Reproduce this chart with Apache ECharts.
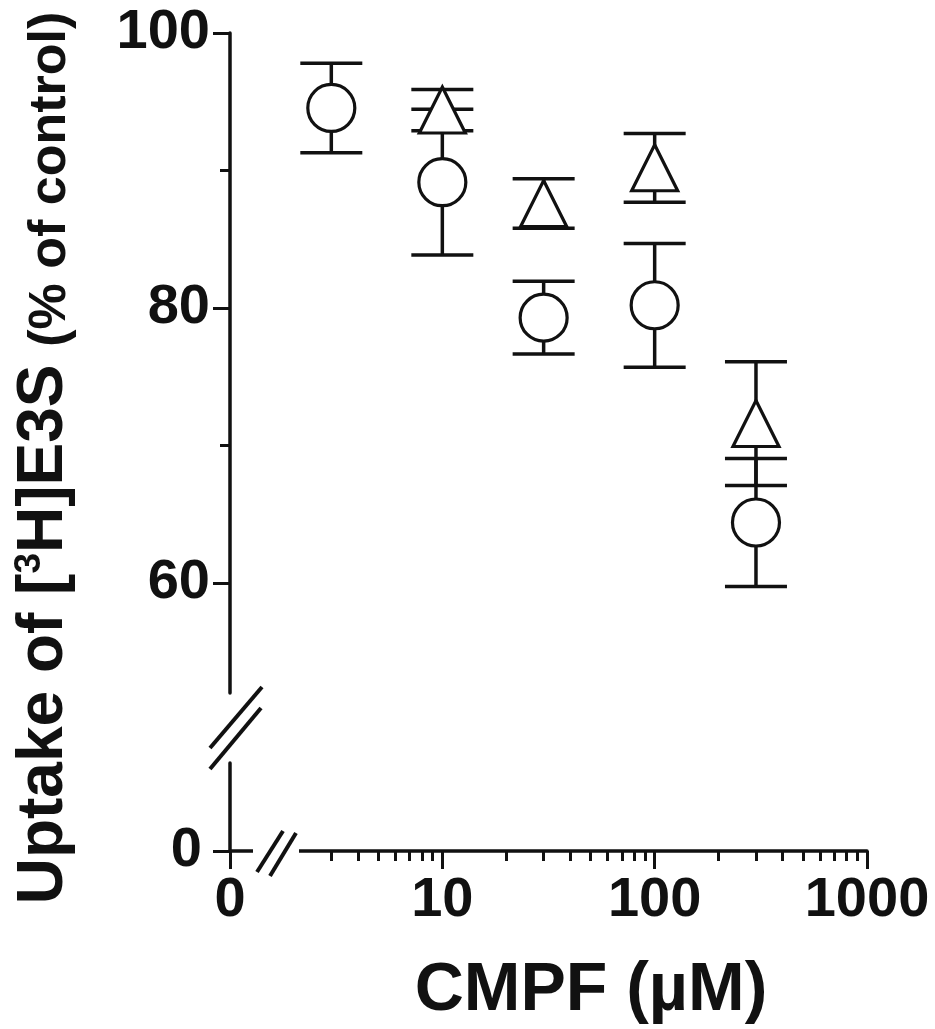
<!DOCTYPE html>
<html>
<head>
<meta charset="utf-8">
<script src="https://cdn.jsdelivr.net/npm/echarts@6/dist/echarts.min.js"></script>
<style>
html,body{margin:0;padding:0;background:#fff;}
#chart{width:935px;height:1029px;}
</style>
</head>
<body>
<div id="chart"></div>
<script>
// ---- data ----
const circleConc = [3, 10, 30, 100, 300];
const circleMean = [94.55, 89.15, 79.3, 80.2, 64.4];
const circleErr = [3.25, 5.3, 2.65, 4.5, 4.65];
const triConc = [10, 30, 100, 300];
const triMean = [94.4, 87.6, 90.2, 71.6];
const triErr = [1.5, 1.8, 2.5, 4.5];
const yMajorTicks = [60, 80, 100];
const yMinorTicks = [70, 90];
const yZeroTicks = [0];
const xMajorTicks = [1, 10, 100, 1000];
const xMinorTicks = [3, 4, 5, 6, 7, 8, 9, 20, 30, 40, 50, 60, 70, 80, 90, 200, 300, 400, 500, 600, 700, 800, 900];

const INK = '#111';
const FONT = '"Liberation Sans", Arial, Helvetica, sans-serif';

const chart = echarts.init(document.getElementById('chart'));

function errData(conc, mean, err) {
  return conc.map((c, i) => [c, mean[i] - err[i], mean[i] + err[i]]);
}
function errRender(params, api) {
  const x = api.value(0);
  const lo = api.coord([x, api.value(1)]);
  const hi = api.coord([x, api.value(2)]);
  const hw = 31;
  const st = { stroke: INK, lineWidth: 3.5 };
  return {
    type: 'group',
    children: [
      { type: 'line', shape: { x1: lo[0], y1: lo[1], x2: hi[0], y2: hi[1] }, style: st },
      { type: 'line', shape: { x1: hi[0] - hw, y1: hi[1], x2: hi[0] + hw, y2: hi[1] }, style: st },
      { type: 'line', shape: { x1: lo[0] - hw, y1: lo[1], x2: lo[0] + hw, y2: lo[1] }, style: st }
    ]
  };
}

const labelStyle = { color: INK, fontSize: 56, fontWeight: 'bold', fontFamily: FONT };
const axisLineStyle = { color: INK, width: 3.5 };

const option = {
  animation: false,
  backgroundColor: '#fff',
  grid: [
    { left: 230, right: 68, top: 33, bottom: 336 },
    { left: 230, right: 68, top: 763, bottom: 178 }
  ],
  xAxis: [
    { type: 'log', gridIndex: 0, min: 1, max: 1000, show: false },
    {
      type: 'log', gridIndex: 1, min: 1, max: 1000, position: 'bottom',
      axisLine: { show: true, onZero: false, lineStyle: axisLineStyle },
      axisTick: { show: true, length: 18, customValues: xMajorTicks, lineStyle: { color: INK, width: 3 } },
      axisLabel: {
        show: true, customValues: xMajorTicks, margin: 22, ...labelStyle,
        formatter: v => (v === 1 ? '0' : String(Math.round(v)))
      },
      splitLine: { show: false }
    },
    {
      type: 'log', gridIndex: 1, min: 1, max: 1000, position: 'bottom',
      axisLine: { show: false, onZero: false },
      axisTick: { show: true, length: 10, customValues: xMinorTicks, lineStyle: { color: INK, width: 3 } },
      axisLabel: { show: false },
      splitLine: { show: false }
    }
  ],
  yAxis: [
    {
      type: 'value', gridIndex: 0, min: 52, max: 100, position: 'left',
      axisLine: { show: true, onZero: false, lineStyle: axisLineStyle },
      axisTick: { show: true, length: 17, customValues: yMajorTicks, lineStyle: { color: INK, width: 3 } },
      axisLabel: { show: true, customValues: yMajorTicks, margin: 20, ...labelStyle },
      splitLine: { show: false }
    },
    {
      type: 'value', gridIndex: 0, min: 52, max: 100, position: 'left',
      axisLine: { show: false, onZero: false },
      axisTick: { show: true, length: 10, customValues: yMinorTicks, lineStyle: { color: INK, width: 3 } },
      axisLabel: { show: false },
      splitLine: { show: false }
    },
    {
      type: 'value', gridIndex: 1, min: 0, max: 6.4, position: 'left',
      axisLine: { show: true, onZero: false, lineStyle: axisLineStyle },
      axisTick: { show: true, length: 17, customValues: yZeroTicks, lineStyle: { color: INK, width: 3 } },
      axisLabel: { show: true, customValues: yZeroTicks, margin: 28, ...labelStyle },
      splitLine: { show: false }
    }
  ],
  series: [
    {
      type: 'custom', xAxisIndex: 0, yAxisIndex: 0, z: 2,
      data: errData(circleConc, circleMean, circleErr),
      encode: { x: 0, y: [1, 2] },
      renderItem: errRender
    },
    {
      type: 'custom', xAxisIndex: 0, yAxisIndex: 0, z: 2,
      data: errData(triConc, triMean, triErr),
      encode: { x: 0, y: [1, 2] },
      renderItem: errRender
    },
    {
      type: 'scatter', xAxisIndex: 0, yAxisIndex: 0, z: 5,
      symbol: 'circle', symbolSize: 47,
      itemStyle: { color: '#fff', borderColor: INK, borderWidth: 3.2, opacity: 1 },
      data: circleConc.map((c, i) => [c, circleMean[i]])
    },
    {
      type: 'scatter', xAxisIndex: 0, yAxisIndex: 0, z: 6,
      symbol: 'triangle', symbolSize: 46,
      itemStyle: { color: '#fff', borderColor: INK, borderWidth: 3.2, opacity: 1 },
      data: triConc.map((c, i) => [c, triMean[i]])
    }
  ],
  graphic: [
    // gap in the x axis line
    { type: 'rect', z: 100, shape: { x: 253, y: 845, width: 46, height: 12 }, style: { fill: '#fff' } },
    // y-axis break marks
    { type: 'line', z: 101, shape: { x1: 210, y1: 748, x2: 262, y2: 687 }, style: { stroke: INK, lineWidth: 4 } },
    { type: 'line', z: 101, shape: { x1: 210, y1: 769, x2: 261, y2: 708 }, style: { stroke: INK, lineWidth: 4 } },
    // x-axis break marks
    { type: 'line', z: 101, shape: { x1: 257, y1: 872, x2: 283, y2: 831 }, style: { stroke: INK, lineWidth: 4 } },
    { type: 'line', z: 101, shape: { x1: 270, y1: 876, x2: 296, y2: 833 }, style: { stroke: INK, lineWidth: 4 } },
    // y-axis title
    {
      type: 'text', z: 100, x: 44, y: 458, rotation: Math.PI / 2,
      style: {
        text: '{a|Uptake of [}{s|3}{a|H]E3S }{b|(% of control)}',
        align: 'center', verticalAlign: 'middle', fill: INK,
        rich: {
          a: { fontSize: 64, fontWeight: 'bold', fontFamily: FONT, lineHeight: 65, verticalAlign: 'bottom', fill: INK },
          s: { fontSize: 37, fontWeight: 'bold', fontFamily: FONT, lineHeight: 37, verticalAlign: 'top', fill: INK },
          b: { fontSize: 52, fontWeight: 'bold', fontFamily: FONT, lineHeight: 53, verticalAlign: 'bottom', fill: INK }
        }
      }
    },
    // x-axis title
    {
      type: 'text', z: 100, x: 591, y: 991,
      style: {
        text: 'CMPF (µM)', align: 'center', verticalAlign: 'middle',
        fontSize: 68, fontWeight: 'bold', fontFamily: FONT, fill: INK
      }
    }
  ]
};
chart.setOption(option);
</script>
</body>
</html>
